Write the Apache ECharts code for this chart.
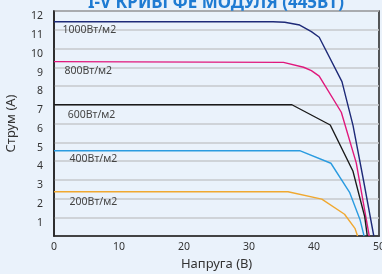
<!DOCTYPE html>
<html lang="uk">
<head>
    <meta charset="UTF-8">
    <title>I-V криві</title>
    <script type="text/javascript" src="https://cdn.jsdelivr.net/npm/echarts@6/dist/echarts.min.js"></script>
    <style>
        body{
            padding: 0px;
            margin: 0px;
            background-color: #eaf2fb;
        }
        #chart{
            width:382px;
            height:274px;
        }
    </style>
</head>
<body>
    <div id="chart"></div>
    <script>
    // підписи кривих
    var names = ['1000Вт/м2', '800Вт/м2', '600Вт/м2', '400Вт/м2', '200Вт/м2'];
    var colors = ['#1e2a78', '#e0187c', '#1a1a1a', '#2a9be0', '#f0a830'];

    // напруга (В) та струм (А) для кожної кривої
    var v1000 = [0, 33.7, 35.5, 37.8, 39.6, 40.8, 44.3, 46.0, 47.6, 49.2];
    var i1000 = [11.43, 11.43, 11.4, 11.25, 10.9, 10.6, 8.23, 5.9, 3.0, 0];
    var v800 = [0, 35.3, 38.4, 39.6, 40.8, 44.2, 46.5, 48.5];
    var i800 = [9.3, 9.26, 9.0, 8.82, 8.53, 6.6, 3.9, 0];
    var v600 = [0, 36.6, 42.5, 46.0, 47.8, 48.2];
    var i600 = [7.0, 7.0, 5.92, 3.45, 1.03, 0];
    var v400 = [0, 37.8, 42.6, 45.5, 47.1, 47.7];
    var i400 = [4.55, 4.55, 3.88, 2.31, 0.85, 0];
    var v200 = [0, 36.0, 41.2, 44.7, 46.3, 46.7];
    var i200 = [2.36, 2.36, 1.97, 1.16, 0.41, 0];

    // де стоять підписи (В, А)
    var labelV = [1.3, 1.6, 2.1, 2.4, 2.4];
    var labelI = [11.0, 8.78, 6.44, 4.1, 1.83];

    var volts = [v1000, v800, v600, v400, v200];
    var amps = [i1000, i800, i600, i400, i200];

    var series = [];
    for (var k = 0; k < names.length; k++) {
        var pts = [];
        for (var j = 0; j < volts[k].length; j++) {
            pts.push([volts[k][j], amps[k][j]]);
        }
        series.push({
            name: names[k],
            type: 'line',
            data: pts,
            showSymbol: false,
            lineStyle: {color: colors[k], width: 1.4},
            markPoint: {
                symbol: 'circle',
                symbolSize: 0,
                silent: true,
                label: {
                    show: true,
                    position: 'right',
                    distance: 0,
                    formatter: names[k],
                    color: '#444',
                    fontSize: 10.5,
                    fontFamily: 'Noto Sans'
                },
                data: [{coord: [labelV[k], labelI[k]]}]
            }
        });
    }

    var chart = echarts.init(document.getElementById('chart'), null, {renderer: 'canvas'});
    chart.setOption({
        backgroundColor: '#eaf2fb',
        animation: false,
        title: {
            text: 'I-V КРИВІ ФЕ МОДУЛЯ (445ВТ)',
            left: 83,
            top: -10,
            textStyle: {color: '#1f7bd2', fontSize: 17, fontWeight: 'bold', fontFamily: 'Noto Sans'}
        },
        grid: {
            left: 54, right: 3, top: 11, bottom: 38,
            outerBoundsMode: 'none',
            containLabel: false,
            show: true,
            borderColor: '#222',
            borderWidth: 1.5
        },
        xAxis: {
            type: 'value',
            min: 0, max: 50, interval: 10,
            name: 'Напруга (В)',
            nameLocation: 'middle',
            nameGap: 22,
            nameTextStyle: {color: '#333', fontSize: 13, fontFamily: 'Noto Sans'},
            axisLine: {lineStyle: {color: '#222', width: 1.5}},
            axisTick: {show: false},
            splitLine: {show: false},
            axisLabel: {color: '#333', fontSize: 10.5, margin: 6, fontFamily: 'Noto Sans'}
        },
        yAxis: {
            type: 'value',
            min: 0, max: 12, interval: 1,
            name: 'Струм (А)',
            nameLocation: 'middle',
            nameGap: 36,
            nameTextStyle: {color: '#333', fontSize: 13, fontFamily: 'Noto Sans'},
            axisLine: {show: true, lineStyle: {color: '#222', width: 1.5}},
            axisTick: {show: false},
            splitLine: {lineStyle: {color: '#c6c9cd', width: 1.6}},
            axisLabel: {
                color: '#333', fontSize: 10.5, margin: 11, fontFamily: 'Noto Sans',
                verticalAlign: 'top',
                formatter: function (v) { return v === 0 ? '' : v; }
            }
        },
        series: series
    });
    </script>
</body>
</html>
